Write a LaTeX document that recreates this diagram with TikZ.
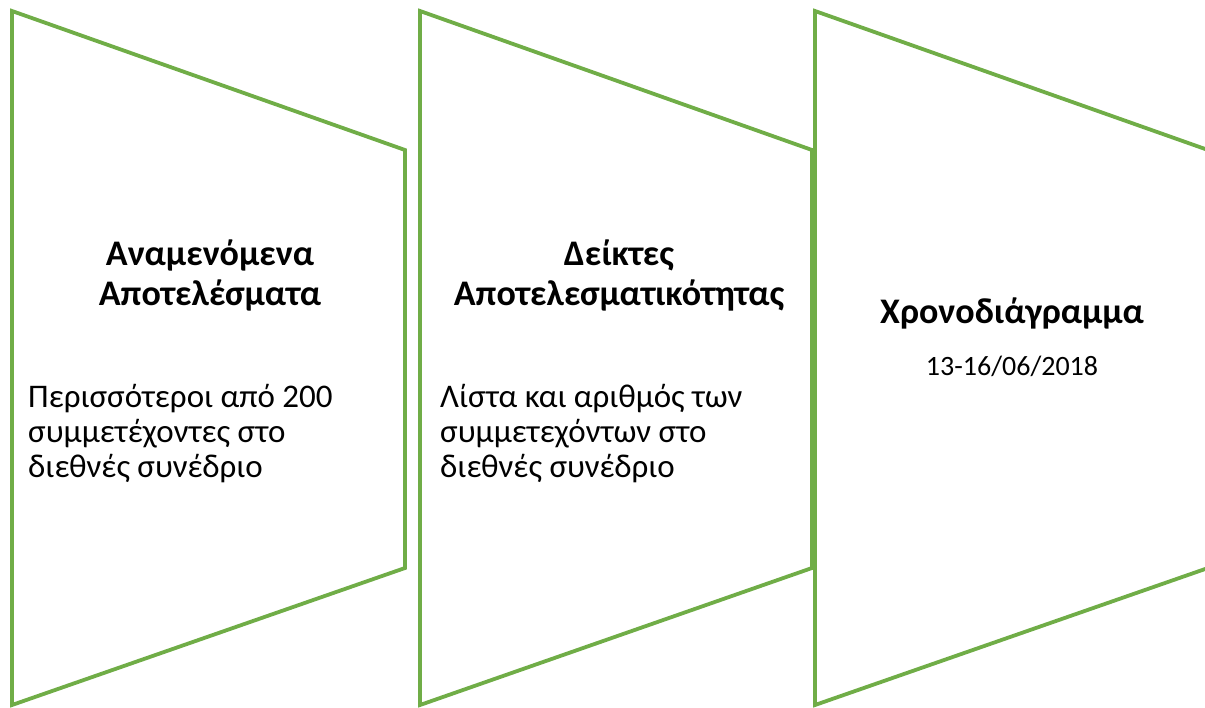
\documentclass[tikz,border=0pt]{standalone}
\usepackage{fontspec}
\setmainfont{Carlito}
\usetikzlibrary{positioning}
\definecolor{panelgreen}{HTML}{70AD47}
\tikzstyle{panel}=[draw=panelgreen,line width=3.8pt,line join=miter]
\tikzstyle{heading}=[font=\bfseries\fontsize{36}{40}\selectfont,
                     align=center,inner sep=0pt]
\tikzstyle{body}=[font=\fontsize{33}{35}\selectfont,align=left,inner sep=0pt]
\tikzstyle{datum}=[font=\fontsize{28}{30}\selectfont,inner sep=0pt]

\begin{document}
\begin{tikzpicture}[x=1pt,y=-1pt]
	\useasboundingbox (0,0) rectangle (1205,707);

	% the three panels
	\draw[panel] (12,11) -- (405,150) -- (405,568) -- (12,705) -- cycle;
	\draw[panel] (420,11) -- (812,150) -- (812,568) -- (420,705) -- cycle;
	\draw[panel] (815,11) -- (1208,150) -- (1208,568) -- (815,705) -- cycle;

	\node[heading,anchor=base] (head1) at (210,305)
		{Αναμενόμενα\\Αποτελέσματα};
	\node[body,anchor=base west] (body1) at (28,477)
		{Περισσότεροι από 200\\συμμετέχοντες στο\\διεθνές συνέδριο};

	\node[heading,anchor=base] (head2) at (619,305)
		{Δείκτες\\Αποτελεσματικότητας};
	\node[body,anchor=base west] (body2) at (440,477)
		{Λίστα και αριθμός των\\συμμετεχόντων στο\\διεθνές συνέδριο};

	\node[heading,anchor=base] (head3) at (1012,323) {Χρονοδιάγραμμα};
	\node[datum] (date3) [below=52pt of head3.base,anchor=base] {13-16/06/2018};
\end{tikzpicture}
\end{document}
